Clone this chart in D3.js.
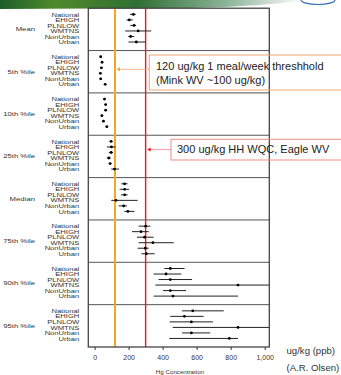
<!DOCTYPE html>
<html>
<head>
<meta charset="utf-8">
<script src="https://cdn.jsdelivr.net/npm/d3@7"></script>
<style>
  body { margin: 0; background: #fff; }
  svg { display: block; font-family: "Liberation Sans", Arial, sans-serif; }
</style>
</head>
<body>
<svg id="chart" width="341" height="375"></svg>
<script>
// statistics (panels) and subpopulations (rows)
const stats = ['Mean', '5th %ile', '10th %ile', '25th %ile', 'Median', '75th %ile', '90th %ile', '95th %ile'];
const sites = ['National', 'EHIGH', 'PLNLOW', 'WMTNS', 'NonUrban', 'Urban'];

// estimates and confidence limits, ug/kg, one row per statistic
const est = [
  [228, 204, 232, 256, 212, 245],
  [36, 44, 40, 34, 36, 62],
  [58, 65, 65, 43, 52, 72],
  [97, 99, 97, 84, 91, 117],
  [176, 177, 177, 126, 171, 196],
  [300, 273, 294, 343, 298, 304],
  [445, 420, 445, 843, 445, 461],
  [577, 528, 569, 843, 569, 792]
];
const lower = [
  [208, 188, 210, 180, 198, 199],
  [30, 38, 34, 28, 30, 55],
  [52, 58, 58, 36, 46, 64],
  [88, 72, 84, 72, 84, 98],
  [157, 147, 155, 98, 141, 175],
  [259, 220, 249, 259, 253, 275],
  [410, 347, 376, 357, 402, 347],
  [514, 445, 441, 459, 514, 439]
];
const upper = [
  [242, 224, 244, 333, 233, 299],
  [42, 50, 46, 40, 42, 69],
  [64, 72, 72, 50, 58, 80],
  [106, 124, 108, 94, 100, 144],
  [194, 202, 194, 253, 190, 234],
  [328, 318, 347, 465, 318, 353],
  [529, 510, 573, 1100, 538, 843],
  [759, 641, 696, 1100, 680, 843]
];

const xTicks = [0, 200, 400, 600, 800, 1000];
const thresholds = [
  { value: 120, color: '#f5a623', box: '#f4a46a', lines: ['120 ug/kg 1 meal/week threshhold', '(Mink WV ~100 ug/kg)'] },
  { value: 300, color: '#e8191c', box: '#f08a8a', lines: ['300 ug/kg HH WQC, Eagle WV'] }
];

const svg = d3.select('#chart');
const plot = { left: 88.3, right: 269.3, top: 8.2, bottom: 347 };

const x = d3.scaleLinear().domain([-37, 1027]).range([plot.left, plot.right]);
const panel = d3.scaleBand().domain(stats).range([plot.top, plot.bottom]);
const row = d3.scalePoint().domain(sites).range([6.2, 6.2 + 27.6]);

// banner at the top of the slide
const defs = svg.append('defs');
const grad = defs.append('linearGradient').attr('id', 'banner');
grad.append('stop').attr('offset', '0%').attr('stop-color', '#1d5e2a');
grad.append('stop').attr('offset', '18%').attr('stop-color', '#4f8a2c');
grad.append('stop').attr('offset', '45%').attr('stop-color', '#2f6f33');
grad.append('stop').attr('offset', '75%').attr('stop-color', '#8fb79a');
grad.append('stop').attr('offset', '100%').attr('stop-color', '#ffffff');
svg.append('path')
  .attr('d', 'M0,0 H305 C280,4 240,7 190,8 L0,9 Z')
  .attr('fill', 'url(#banner)');
svg.append('ellipse')
  .attr('cx', 318).attr('cy', 0).attr('rx', 17).attr('ry', 4.5)
  .attr('fill', '#fff').attr('stroke', '#2c6db3').attr('stroke-width', 1.2);

defs.append('clipPath').attr('id', 'plotclip')
  .append('rect')
  .attr('x', plot.left).attr('y', plot.top)
  .attr('width', plot.right - plot.left).attr('height', plot.bottom - plot.top);

// panel separators
svg.append('g')
  .selectAll('line')
  .data(stats.slice(1))
  .join('line')
  .attr('x1', plot.left).attr('x2', plot.right)
  .attr('y1', d => panel(d)).attr('y2', d => panel(d))
  .attr('stroke', '#555').attr('stroke-width', 1);

// threshold lines
svg.append('g')
  .selectAll('line')
  .data(thresholds)
  .join('line')
  .attr('x1', d => x(d.value)).attr('x2', d => x(d.value))
  .attr('y1', plot.top).attr('y2', plot.bottom)
  .attr('stroke', d => d.color)
  .attr('stroke-width', (d, i) => (i === 0 ? 2 : 1.4));

// estimates with confidence intervals
const cells = [];
stats.forEach((s, i) => {
  sites.forEach((site, j) => {
    cells.push({ stat: s, site, est: est[i][j], lo: lower[i][j], hi: upper[i][j] });
  });
});

const marks = svg.append('g').attr('clip-path', 'url(#plotclip)');
marks.selectAll('line')
  .data(cells)
  .join('line')
  .attr('x1', d => x(d.lo)).attr('x2', d => x(d.hi))
  .attr('y1', d => panel(d.stat) + row(d.site))
  .attr('y2', d => panel(d.stat) + row(d.site))
  .attr('stroke', '#222').attr('stroke-width', 1);
marks.selectAll('circle')
  .data(cells)
  .join('circle')
  .attr('cx', d => x(d.est))
  .attr('cy', d => panel(d.stat) + row(d.site))
  .attr('r', 1.4)
  .attr('fill', '#000');

// frame
svg.append('rect')
  .attr('x', plot.left).attr('y', plot.top)
  .attr('width', plot.right - plot.left).attr('height', plot.bottom - plot.top)
  .attr('fill', 'none').attr('stroke', '#444').attr('stroke-width', 1.3);

// left labels
const labels = svg.append('g').attr('fill', '#333');
stats.forEach(s => {
  labels.append('text')
    .attr('transform', `translate(35,${panel(s) + panel.bandwidth() / 2 + 2}) scale(1.27,1)`)
    .attr('text-anchor', 'end')
    .attr('font-size', 6.1)
    .text(s);
  sites.forEach(site => {
    labels.append('text')
      .attr('transform', `translate(79.3,${panel(s) + row(site) + 2.1}) scale(1.27,1)`)
      .attr('text-anchor', 'end')
      .attr('font-size', 6)
      .text(site);
  });
});

// x axis
const axis = svg.append('g')
  .attr('transform', `translate(0,${plot.bottom})`)
  .call(d3.axisBottom(x).tickValues(xTicks).tickSize(3).tickPadding(4.8));
axis.select('.domain').remove();
axis.selectAll('line').attr('stroke', '#333');
axis.selectAll('text')
  .attr('font-family', '"Liberation Sans", Arial, sans-serif')
  .attr('font-size', 7).attr('fill', '#333');

svg.append('text')
  .attr('x', (x(0) + x(1000)) / 2 + 0.3).attr('y', 374)
  .attr('text-anchor', 'middle')
  .attr('font-size', 6.2).attr('fill', '#333')
  .text('Hg Concentration');

// threshold call-outs
const note1 = thresholds[0], note2 = thresholds[1];
const callout = svg.append('g');
callout.append('rect')
  .attr('x', 149.3).attr('y', 55).attr('width', 200).attr('height', 35)
  .attr('fill', 'none').attr('stroke', note1.box).attr('stroke-width', 1);
callout.append('line')
  .attr('x1', 149.3).attr('x2', x(note1.value) + 3)
  .attr('y1', 69.3).attr('y2', 69.3)
  .attr('stroke', note1.box).attr('stroke-width', 0.8);
callout.append('path')
  .attr('d', `M${x(note1.value) + 1.5},69.3 l3.5,-2 v4 z`)
  .attr('fill', note1.color);
note1.lines.forEach((t, i) => {
  callout.append('text')
    .attr('x', 156).attr('y', 69.8 + i * 14.3)
    .attr('font-size', 11).attr('fill', '#222')
    .text(t);
});

callout.append('rect')
  .attr('x', 171).attr('y', 139.3).attr('width', 200).attr('height', 20.7)
  .attr('fill', 'none').attr('stroke', note2.box).attr('stroke-width', 1);
callout.append('line')
  .attr('x1', 171).attr('x2', x(note2.value) + 3)
  .attr('y1', 149.5).attr('y2', 149.5)
  .attr('stroke', note2.box).attr('stroke-width', 0.8);
callout.append('path')
  .attr('d', `M${x(note2.value) + 1.5},149.5 l3.5,-2 v4 z`)
  .attr('fill', note2.color);
note2.lines.forEach(t => {
  callout.append('text')
    .attr('x', 177).attr('y', 153.4)
    .attr('font-size', 11).attr('fill', '#222')
    .text(t);
});

// units and credit
svg.append('text')
  .attr('x', 286.5).attr('y', 353.5)
  .attr('font-size', 9.6).attr('fill', '#333')
  .text('ug/kg (ppb)');
svg.append('text')
  .attr('x', 286.5).attr('y', 370.8)
  .attr('font-size', 9.6).attr('fill', '#333')
  .text('(A.R. Olsen)');
</script>
</body>
</html>
